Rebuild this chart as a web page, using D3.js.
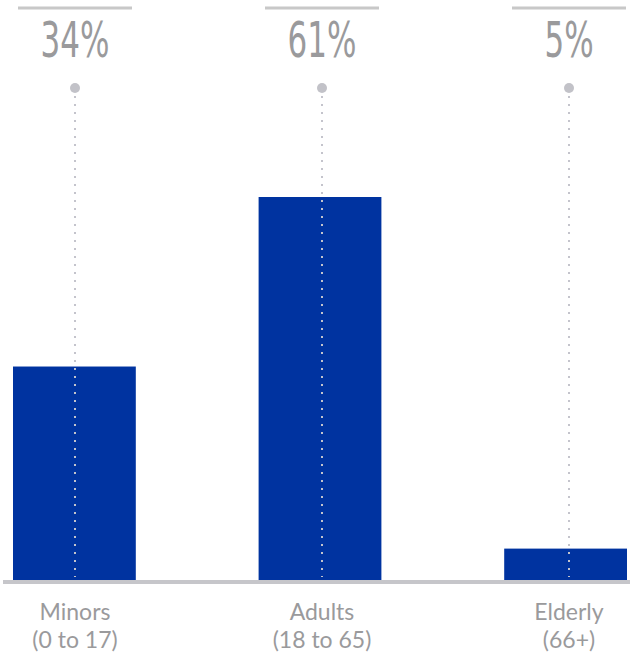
<!DOCTYPE html>
<html>
<head>
<meta charset="utf-8">
<script src="https://cdn.jsdelivr.net/npm/d3@7"></script>
<style>
  body { margin: 0; background: #fff; }
  svg { display: block; }
</style>
</head>
<body>
<div id="chart"></div>
<script>
// data
let categories = ["Minors", "Adults", "Elderly"];
let subLabels = ["(0 to 17)", "(18 to 65)", "(66+)"];
let values = [34, 61, 5];
let pctLabels = ["34%", "61%", "5%"];

let width = 630, height = 659;
let baseY = 580;

let svg = d3.select("#chart").append("svg")
  .attr("width", width)
  .attr("height", height);

// band scale for the bars
let x = d3.scaleBand().domain(categories).range([13, 627]).paddingInner(0.5).paddingOuter(0);
// point scale for the annotations (dots, percentages, labels)
let xa = d3.scalePoint().domain(categories).range([75, 569]);

let y = d3.scaleLinear().domain([0, 61]).range([baseY, 197]);

// bars
svg.append("g").selectAll("rect")
  .data(values)
  .enter()
  .append("rect")
  .attr("x", (d, i) => x(categories[i]))
  .attr("y", d => y(d))
  .attr("width", x.bandwidth())
  .attr("height", d => baseY - y(d))
  .attr("fill", "#0033a0");

// baseline
svg.append("line")
  .attr("x1", 3).attr("x2", width)
  .attr("y1", baseY + 2).attr("y2", baseY + 2)
  .attr("stroke", "#c6c6ca")
  .attr("stroke-width", 4);

let ann = svg.append("g").selectAll("g")
  .data(categories)
  .enter()
  .append("g")
  .attr("transform", d => `translate(${xa(d)},0)`);

// top rule
ann.append("line")
  .attr("x1", -57).attr("x2", 57)
  .attr("y1", 8).attr("y2", 8)
  .attr("stroke", "#c8c8c8")
  .attr("stroke-width", 3);

// percentages (condensed look by squeezing horizontally)
ann.append("text")
  .attr("y", 57)
  .attr("transform", "scale(0.62,1)")
  .attr("text-anchor", "middle")
  .attr("font-family", "'DejaVu Sans', sans-serif")
  .attr("font-size", 50)
  .attr("fill", "#9a9a9c")
  .text((d, i) => pctLabels[i]);

// dotted leader
ann.append("line")
  .attr("x1", 0).attr("x2", 0)
  .attr("y1", 96).attr("y2", baseY - 3)
  .attr("stroke", "#c4c4cc")
  .attr("stroke-width", 2)
  .attr("stroke-dasharray", "2,6");

ann.append("circle")
  .attr("cy", 88)
  .attr("r", 5)
  .attr("fill", "#c2c2c8");

// category labels, two lines each
let lab = ann.append("g")
  .attr("text-anchor", "middle")
  .attr("font-family", "Lato, sans-serif")
  .attr("font-size", 23)
  .attr("fill", "#9a9a9c");
lab.append("text").attr("y", 620).text(d => d);
lab.append("text").attr("y", 648).text((d, i) => subLabels[i]);
</script>
</body>
</html>
